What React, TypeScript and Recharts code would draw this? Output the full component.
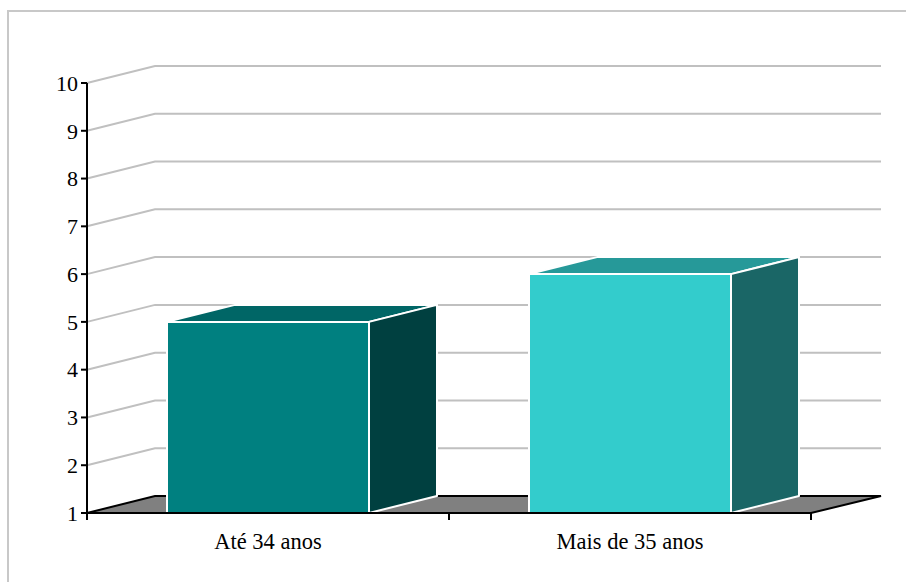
import { Bar, BarChart, CartesianGrid, XAxis, YAxis } from 'recharts';

const categories = ['Até 34 anos', 'Mais de 35 anos'];
const values = [5, 6];
const yTicks = [1, 2, 3, 4, 5, 6, 7, 8, 9, 10];

const frontColors = ['#008080', '#33cccc'];
const topColors = ['#006666', '#269999'];
const sideColors = ['#004040', '#1a6666'];

const data = categories.map((name, i) => ({ name, value: values[i] }));

// depth of the fake 3d
const DX = 68;
const DY = 17;
const FONT = 'Liberation Serif';

const Box = (props: any) => {
  const { x, y, width: w, height: h, index } = props;
  const i = index ?? 0;
  return (
    <g stroke="#fff" strokeWidth={2} strokeLinejoin="round">
      <polygon
        points={`${x},${y} ${x + DX},${y - DY} ${x + w + DX},${y - DY} ${x + w},${y}`}
        fill={topColors[i]}
      />
      <polygon
        points={`${x + w},${y} ${x + w + DX},${y - DY} ${x + w + DX},${y + h - DY} ${x + w},${y + h}`}
        fill={sideColors[i]}
      />
      <rect x={x} y={y} width={w} height={h} fill={frontColors[i]} />
    </g>
  );
};

const GridLine = (props: any) => {
  const { x1, x2, y1, index } = props;
  if (index === 0) {
    // floor
    return (
      <polygon
        key="floor"
        points={`${x1},${y1} ${x1 + DX},${y1 - DY} ${x2 + DX + 2},${y1 - DY} ${x2},${y1}`}
        fill="#808080"
        stroke="#000"
        strokeWidth={2}
      />
    );
  }
  return (
    <polyline
      key={`g-${index}`}
      points={`${x1},${y1} ${x1 + DX},${y1 - DY} ${x2 + DX + 2},${y1 - DY}`}
      fill="none"
      stroke="#c0c0c0"
      strokeWidth={2}
    />
  );
};

const CatTick = (props: any) => {
  const { x, y, payload } = props;
  const half = payload?.offset || 181;
  return (
    <g>
      <line x1={x - half} y1={y} x2={x - half} y2={y + 7} stroke="#000" strokeWidth={2} />
      <line x1={x + half} y1={y} x2={x + half} y2={y + 7} stroke="#000" strokeWidth={2} />
      <text x={x} y={y + 36} textAnchor="middle" fontFamily={FONT} fontSize={22.5} fill="#000">
        {payload.value}
      </text>
    </g>
  );
};

export default function App() {
  return (
    <div style={{ position: 'absolute', left: 0, top: 0, width: 906, height: 582, background: '#fff' }}>
      <div
        style={{
          position: 'absolute',
          left: 7,
          top: 10,
          width: 920,
          height: 600,
          borderLeft: '2px solid #c8c8c8',
          borderTop: '2px solid #c8c8c8',
        }}
      />
      <div style={{ position: 'absolute', left: 0, top: 0 }}>
        <BarChart
          width={906}
          height={582}
          data={data}
          margin={{ top: 83, right: 95, bottom: 0, left: 0 }}
          barSize={202}
        >
          <CartesianGrid vertical={false} horizontal={GridLine} />
          <XAxis
            dataKey="name"
            height={69}
            axisLine={{ stroke: '#000', strokeWidth: 2 }}
            tickLine={false}
            tickSize={0}
            tickMargin={0}
            tick={<CatTick />}
            interval={0}
          />
          <YAxis
            type="number"
            domain={[1, 10]}
            ticks={yTicks}
            interval={0}
            width={87}
            axisLine={{ stroke: '#000', strokeWidth: 2 }}
            tickLine={{ stroke: '#000', strokeWidth: 2 }}
            tickSize={6}
            tickMargin={3}
            tick={{ fill: '#000', fontSize: 22, fontFamily: FONT }}
          />
          <Bar dataKey="value" shape={<Box />} isAnimationActive={false} />
        </BarChart>
      </div>
    </div>
  );
}
